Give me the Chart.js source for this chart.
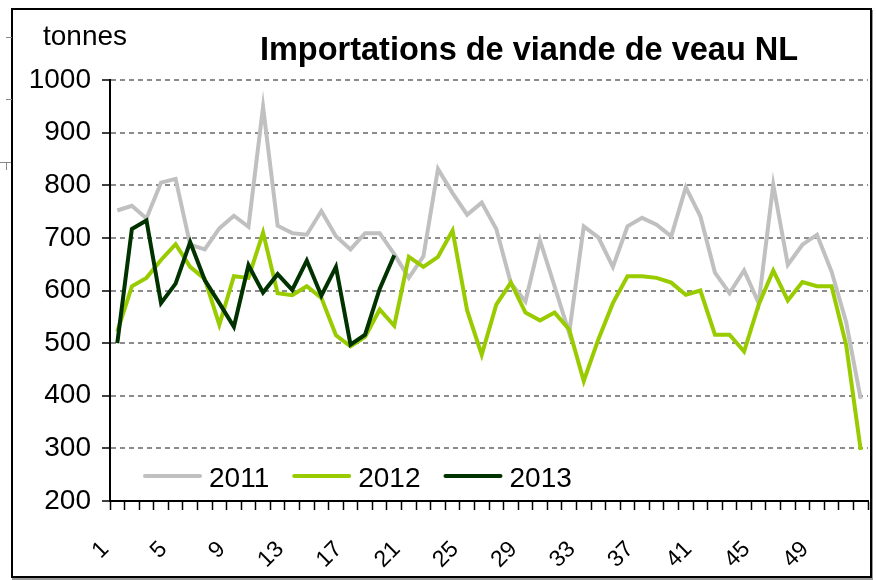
<!DOCTYPE html>
<html>
<head>
<meta charset="utf-8">
<script src="https://cdn.jsdelivr.net/npm/chart.js@4/dist/chart.umd.min.js"></script>
<style>
  body { margin: 0; background: #fff; }
  #wrap { position: relative; width: 876px; height: 580px; }
  #frame { position: absolute; left: 11px; top: 8px; width: 857px; height: 566px;
           border: 2px solid #000; box-shadow: 1px 2px 0 #999; pointer-events: none; }
  .mark { position: absolute; background: #888; }
</style>
</head>
<body>
<div id="wrap">
  <canvas id="chart" width="876" height="580"></canvas>
  <div id="frame"></div>
  <div class="mark" style="left:6px;top:37px;width:6px;height:1px"></div>
  <div class="mark" style="left:6px;top:99px;width:6px;height:1px"></div>
  <div class="mark" style="left:0px;top:162px;width:11px;height:1px"></div>
  <div class="mark" style="left:6px;top:162px;width:1px;height:8px"></div>
</div>
<script>
// semaines
const weeks = Array.from({ length: 52 }, (_, i) => String(i + 1));

// tonnes par semaine
const data2011 = [752, 761, 737, 805, 812, 687, 678, 718, 742, 721,
  949, 723, 709, 706, 751, 703, 678, 709, 709, 669,
  624, 665, 831, 785, 744, 767, 717, 614, 579, 695,
  608, 519, 722, 701, 645, 722, 738, 725, 703, 796,
  741, 634, 595, 638, 576, 801, 649, 687, 706, 636,
  540, 394];
const data2012 = [522, 608, 624, 658, 688, 645, 622, 535, 627, 624,
  710, 595, 591, 608, 586, 515, 494, 512, 564, 533,
  664, 645, 664, 714, 562, 478, 573, 615, 558, 543,
  558, 526, 428, 507, 576, 627, 627, 624, 615, 592,
  600, 516, 516, 484, 573, 638, 581, 616, 608, 608,
  497, 297];
const data2013 = [500, 717, 733, 576, 613, 692, 620, 576, 531, 648,
  596, 631, 601, 657, 590, 645, 497, 516, 603, 667];

const yearLabels = ["2011", "2012", "2013"];
const yearColors = ["#c0c0c0", "#99cc00", "#003300"];
const yTicks = [200, 300, 400, 500, 600, 700, 800, 900, 1000];

const FONT = "'Liberation Sans', Arial, sans-serif";

// titre, unité et légende dessinés dans le graphique
const decor = {
  id: "decor",
  afterDraw(chart) {
    const ctx = chart.ctx;
    ctx.save();
    ctx.fillStyle = "#000";
    ctx.textBaseline = "alphabetic";
    ctx.font = "bold 32.5px " + FONT;
    ctx.textAlign = "center";
    ctx.fillText("Importations de viande de veau NL", 529, 60);
    ctx.font = "28px " + FONT;
    ctx.textAlign = "left";
    ctx.fillText("tonnes", 43, 45);

    // légende
    let x = 145;
    const y = 476;
    chart.data.datasets.forEach((ds) => {
      ctx.strokeStyle = ds.borderColor;
      ctx.lineWidth = 4;
      ctx.lineCap = "round";
      ctx.beginPath();
      ctx.moveTo(x, y);
      ctx.lineTo(x + 55, y);
      ctx.stroke();
      ctx.fillStyle = "#000";
      ctx.font = "28px " + FONT;
      ctx.fillText(ds.label, x + 64, 487);
      x += 64 + ctx.measureText(ds.label).width + 25;
    });
    ctx.restore();
  }
};

new Chart(document.getElementById("chart"), {
  type: "line",
  data: {
    labels: weeks,
    datasets: [data2011, data2012, data2013].map((d, i) => ({
      label: yearLabels[i],
      data: d,
      borderColor: yearColors[i],
      backgroundColor: yearColors[i],
      borderWidth: 4,
      pointRadius: 0,
      tension: 0,
      order: 3 - i,
    })),
  },
  options: {
    responsive: false,
    animation: false,
    devicePixelRatio: 1,
    layout: { padding: { top: 80, right: 8, left: 0, bottom: 0 } },
    plugins: { legend: { display: false }, title: { display: false }, tooltip: { enabled: false } },
    scales: {
      x: {
        offset: true,
        afterFit: (s) => { s.height = 79; s.paddingLeft = 0; s.paddingRight = 0; },
        grid: { offset: true, drawOnChartArea: false, tickLength: 9, tickColor: "#000", tickWidth: 1.5 },
        border: { color: "#000", width: 2 },
        ticks: {
          autoSkip: false,
          minRotation: 45,
          maxRotation: 45,
          padding: 26,
          labelOffset: -12,
          color: "#000",
          font: { family: FONT, size: 23 },
          callback: (v, i) => (i % 4 === 0 ? weeks[i] : ""),
        },
      },
      y: {
        min: yTicks[0],
        max: yTicks[yTicks.length - 1],
        afterFit: (s) => { s.width = 110; },
        afterBuildTicks: (s) => { s.ticks = yTicks.map((v) => ({ value: v })); },
        grid: {
          color: (c) => (c.tick && c.tick.value === 200 ? "rgba(0,0,0,0)" : "#8c8c8c"),
          lineWidth: 2,
          tickLength: 8,
          tickColor: "#000",
          tickWidth: 1.5,
        },
        border: { color: "#000", width: 2, dash: [5, 4] },
        ticks: {
          color: "#000",
          padding: 11,
          font: { family: FONT, size: 28 },
          callback: (v) => String(v),
        },
      },
    },
  },
  plugins: [decor],
});
</script>
</body>
</html>
